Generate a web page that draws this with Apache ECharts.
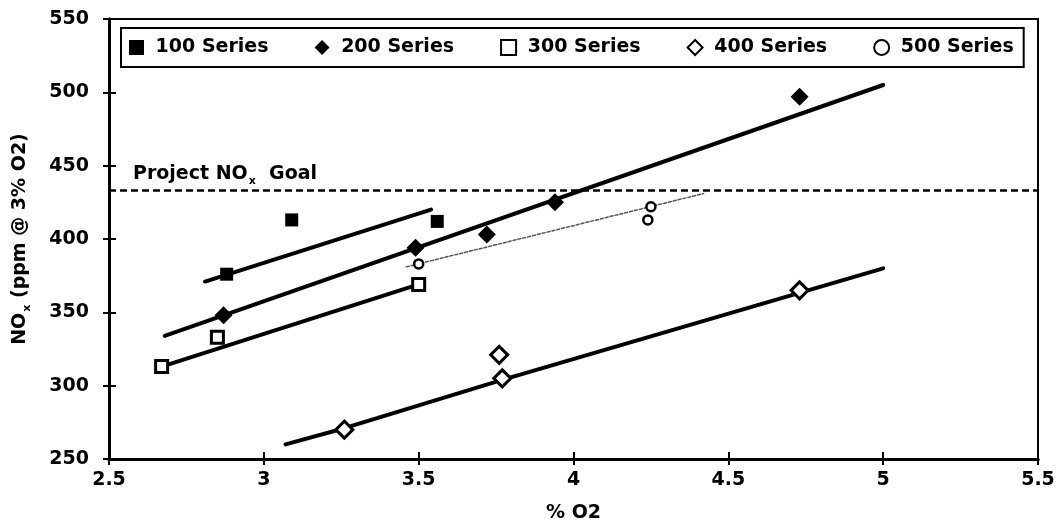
<!DOCTYPE html>
<html>
<head>
<meta charset="utf-8">
<script src="https://cdn.jsdelivr.net/npm/echarts@6/dist/echarts.min.js"></script>
<style>
html,body{margin:0;padding:0;background:#fff;}
#chart{width:1058px;height:529px;}
</style>
</head>
<body>
<div id="chart"></div>
<script>
// ---- data ----
const seriesNames = ['100 Series', '200 Series', '300 Series', '400 Series', '500 Series'];
const s100 = [[2.88, 376], [3.09, 413], [3.56, 412]];
const s200 = [[2.87, 348], [3.49, 394], [3.72, 403], [3.94, 425], [4.73, 497]];
const s300 = [[2.67, 313], [2.85, 333], [3.50, 369]];
const s400 = [[3.26, 270], [3.76, 321], [3.77, 305], [4.73, 365]];
const s500 = [[3.50, 383], [4.24, 413], [4.25, 422]];
// fitted trend lines (end points as drawn)
const t100 = [[2.81, 371], [3.54, 420]];
const t200 = [[2.68, 334], [5.00, 505]];
const t300 = [[2.67, 313], [3.50, 369]];
const t400 = [[3.07, 260], [3.26, 271], [3.77, 304], [5.00, 380]];
const t500 = [[3.46, 381], [4.42, 431]];
const goalValue = 433;
const xTicks = [2.5, 3, 3.5, 4, 4.5, 5, 5.5];
const yTicks = [250, 300, 350, 400, 450, 500, 550];

const FONT = 'DejaVu Sans';
const txt = { fontFamily: FONT, fontWeight: 'bold', fontSize: 19, color: '#000' };
const subRich = {
  a: { fontFamily: FONT, fontWeight: 'bold', fontSize: 19, color: '#000', lineHeight: 30, verticalAlign: 'middle' },
  s: { fontFamily: FONT, fontWeight: 'bold', fontSize: 11, color: '#000', lineHeight: 30, verticalAlign: 'bottom', padding: [0, 0, 2, 1] }
};

const W = 1058, H = 529;
const G = { left: 109, right: 20, top: 19, bottom: 70 };
const gridW = W - G.left - G.right, gridH = H - G.top - G.bottom;

const chart = echarts.init(document.getElementById('chart'), null, { renderer: 'canvas' });

const xBase = { type: 'value', min: xTicks[0], max: xTicks[xTicks.length - 1], interval: 0.5, splitLine: { show: false } };
const yBase = { type: 'value', min: yTicks[0], max: yTicks[yTicks.length - 1], interval: 50, splitLine: { show: false } };
const tickStyle = { color: '#000', width: 2 };
const mainLine = { show: true, lineStyle: { color: '#000', width: 3 } };

function trend(data, style, onCompanion) {
  return {
    type: 'line', data: data, showSymbol: false, symbol: 'none', silent: true,
    xAxisIndex: onCompanion ? 1 : 0, yAxisIndex: onCompanion ? 1 : 0,
    lineStyle: Object.assign({ color: '#000', width: 4, cap: 'round', opacity: 1 }, style || {}),
    z: 2, legendHoverLink: false
  };
}

chart.setOption({
  animation: false,
  backgroundColor: '#fff',
  grid: { left: G.left, right: G.right, top: G.top, bottom: G.bottom, show: true, borderColor: '#000', borderWidth: 2, backgroundColor: 'transparent' },
  legend: {
    data: seriesNames,
    left: 121, top: 28,
    padding: [10, 10, 10, 8],
    borderColor: '#000', borderWidth: 2,
    backgroundColor: '#fff',
    itemWidth: 15, itemHeight: 15, itemGap: 46,
    formatter: function (n) { return ' ' + n; },
    textStyle: txt
  },
  xAxis: [
    Object.assign({}, xBase, {
      position: 'bottom',
      name: '% O2', nameLocation: 'middle', nameGap: 45,
      nameTextStyle: txt,
      axisLine: mainLine,
      axisTick: { show: true, inside: false, length: 6, lineStyle: tickStyle },
      axisLabel: Object.assign({ margin: 12, formatter: function (v) { return String(v); } }, txt)
    }),
    // companion axis moved onto the bottom line, to give the crossing ticks
    Object.assign({}, xBase, {
      position: 'top', offset: -gridH,
      axisLine: mainLine,
      axisTick: { show: true, inside: false, length: 7, lineStyle: tickStyle },
      axisLabel: { show: false }
    })
  ],
  yAxis: [
    Object.assign({}, yBase, {
      position: 'left',
      name: '{a|NO}{s|x}{a| (ppm @ 3% O2)}', nameLocation: 'middle', nameGap: 74,
      nameTextStyle: { rich: subRich },
      axisLine: mainLine,
      axisTick: { show: true, inside: false, length: 6, lineStyle: tickStyle },
      axisLabel: Object.assign({ margin: 20 }, txt)
    }),
    Object.assign({}, yBase, {
      position: 'right', offset: -gridW,
      axisLine: mainLine,
      axisTick: { show: true, inside: false, length: 7, lineStyle: tickStyle },
      axisLabel: { show: false }
    })
  ],
  series: [
    // goal line
    {
      type: 'line', data: [], silent: true,
      markLine: {
        silent: true, symbol: 'none', animation: false,
        lineStyle: { color: '#000', type: [7, 4], width: 2.5, opacity: 1 },
        label: {
          show: true, position: 'insideStartTop', distance: [24, 2],
          formatter: '{a|Project NO}{s|x}{a|  Goal}', rich: subRich
        },
        data: [{ yAxis: goalValue }]
      }
    },
    trend(t100), trend(t200), trend(t300), trend(t400),
    trend(t500, { width: 1.5, color: '#555', type: [3, 2] }, true),
    {
      name: seriesNames[0], type: 'scatter', data: s100, symbol: 'rect', symbolSize: 13,
      itemStyle: { color: '#000', opacity: 1 }, z: 5
    },
    {
      name: seriesNames[1], type: 'scatter', data: s200, symbol: 'diamond', symbolSize: [18, 18],
      itemStyle: { color: '#000', opacity: 1 }, z: 5
    },
    {
      name: seriesNames[2], type: 'scatter', data: s300, symbol: 'rect', symbolSize: 12,
      itemStyle: { color: '#fff', borderColor: '#000', borderWidth: 3, opacity: 1 }, z: 5
    },
    {
      name: seriesNames[3], type: 'scatter', data: s400, symbol: 'diamond', symbolSize: [17, 17],
      itemStyle: { color: '#fff', borderColor: '#000', borderWidth: 3, opacity: 1 }, z: 5
    },
    {
      name: seriesNames[4], type: 'scatter', data: s500, symbol: 'circle', symbolSize: 9,
      itemStyle: { color: '#fff', borderColor: '#000', borderWidth: 2.5, opacity: 1 }, z: 5
    }
  ]
});
</script>
</body>
</html>
